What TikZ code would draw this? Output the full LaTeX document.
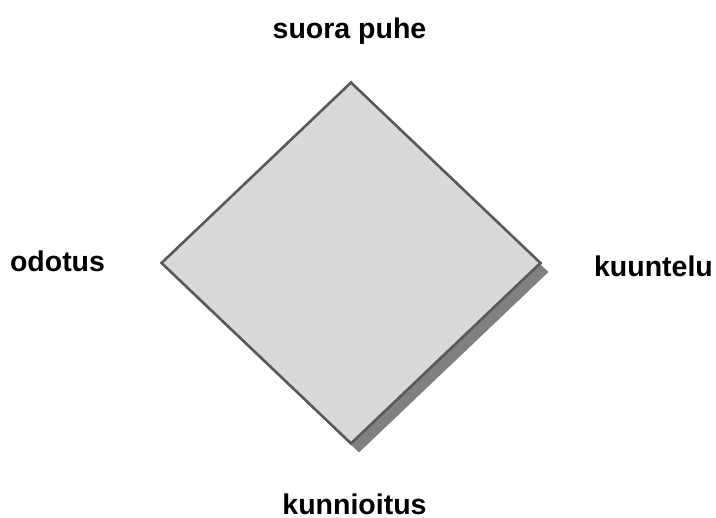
\documentclass[tikz,border=0pt]{standalone}
\usepackage{fontspec}
\setmainfont{Liberation Sans}
\usetikzlibrary{shapes.geometric,shadows}
\definecolor{rombfill}{RGB}{217,217,217}
\definecolor{rombdraw}{RGB}{89,89,89}
\definecolor{rombshadow}{RGB}{128,128,128}

\begin{document}
\begin{tikzpicture}[x=1pt,y=-1pt,
  romb/.style={diamond,draw=rombdraw,fill=rombfill,line width=2.6pt,inner sep=0pt,
    minimum width=380pt,minimum height=362pt,
    general shadow={fill=rombshadow,draw=none,shadow xshift=8pt,shadow yshift=-9pt}},
  label/.style={font=\fontsize{28.5}{32}\selectfont\bfseries,inner sep=0pt,anchor=base}]

\path[use as bounding box] (0,0) rectangle (716,518);
\node[romb] (kuvio) at (351,263) {};
\node[label] (ylos) at (349.5,39) {suora puhe};
\node[label] (vasen) at (57.5,272) {odotus};
\node[label] (oikea) at (653.5,277) {kuuntelu};
\node[label] (alas) at (354.5,515) {kunnioitus};

\end{tikzpicture}
\end{document}
